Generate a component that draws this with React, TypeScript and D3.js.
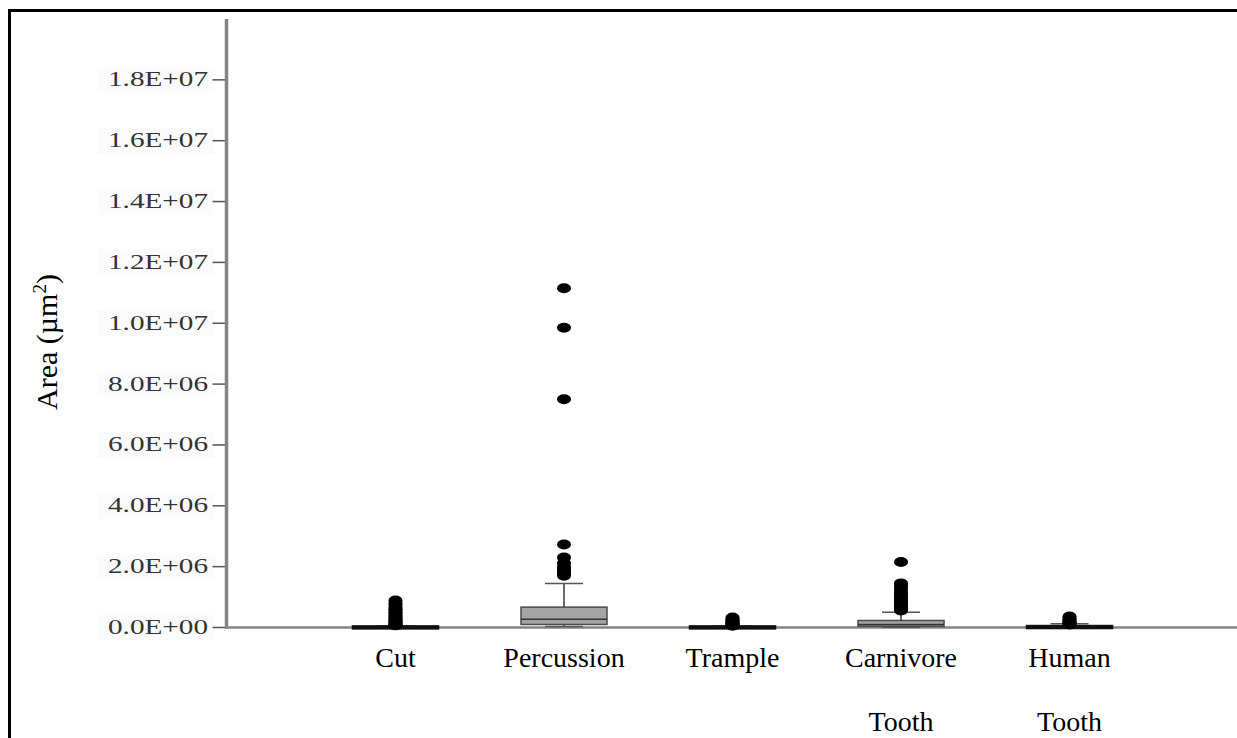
import React from "react";
import * as d3 from "d3";

// Categories (each label may wrap onto a second line)
const categories: string[][] = [
  ["Cut"],
  ["Percussion"],
  ["Trample"],
  ["Carnivore", "Tooth"],
  ["Human", "Tooth"],
];

// Box statistics per category, in µm²
const whiskerLow = [0, 30000, 0, 10000, 5000];
const quartile1 = [3000, 100000, 3000, 40000, 15000];
const medians = [8000, 270000, 8000, 100000, 30000];
const quartile3 = [20000, 670000, 15000, 230000, 60000];
const whiskerHigh = [50000, 1450000, 40000, 500000, 120000];

// Outliers per category, in µm²
const outliersCut = [890000, 800000, 720000, 650000, 600000, 550000, 500000, 450000, 400000, 360000, 320000, 280000, 250000, 220000, 190000, 160000, 130000, 110000, 90000, 70000];
const outliersPercussion = [11150000, 9850000, 7500000, 2730000, 2300000, 2120000, 2000000, 1920000, 1850000, 1780000, 1700000];
const outliersTrample = [330000, 280000, 240000, 200000, 170000, 140000, 120000, 100000, 80000, 60000];
const outliersCarnivore = [2150000, 1450000, 1380000, 1300000, 1200000, 1120000, 1050000, 980000, 920000, 860000, 800000, 750000, 700000, 650000, 600000, 560000];
const outliersHuman = [360000, 310000, 270000, 230000, 200000, 170000, 140000, 120000, 100000];
const outliers = [outliersCut, outliersPercussion, outliersTrample, outliersCarnivore, outliersHuman];

const yTicks = [0, 2e6, 4e6, 6e6, 8e6, 1e7, 1.2e7, 1.4e7, 1.6e7, 1.8e7];

const W = 1237;
const H = 738;

const fmt = (v: number) => {
  const [m, e] = v.toExponential(1).split("e");
  const sign = e.startsWith("-") ? "-" : "+";
  const digits = e.replace(/[+-]/, "").padStart(2, "0");
  return `${m}E${sign}${digits}`;
};

export default function App() {
  const x = d3.scaleLinear().domain([0, 6]).range([227, 1238]);
  const y = d3.scaleLinear().domain([0, 2e7]).range([627.5, 19]);
  const boxW = 86;
  const serif = "'Liberation Serif', 'Times New Roman', serif";

  return (
    <svg
      width={W}
      height={H}
      style={{ position: "absolute", left: 0, top: 0, background: "#fff" }}
    >
      {/* outer frame */}
      <rect x={9.5} y={10.5} width={W + 20} height={H + 20} fill="none" stroke="#000" strokeWidth={3} />

      {/* y tick labels */}
      {yTicks.map((t) => (
        <g key={t}>
          <rect x={97} y={y(t) - 13} width={118} height={26} fill="#fbfbfb" />
          <text
            x={208}
            y={y(t) + 6.5}
            textAnchor="end"
            fontFamily={serif}
            fontSize={21}
            fill="#333"
            textLength={100}
            lengthAdjust="spacingAndGlyphs"
          >
            {fmt(t)}
          </text>
          <line x1={212.5} x2={227} y1={y(t)} y2={y(t)} stroke="#555" strokeWidth={1.5} />
        </g>
      ))}

      {/* axes */}
      <line x1={226.5} x2={226.5} y1={y(2e7)} y2={y(0) + 1} stroke="#858585" strokeWidth={3.5} />
      <line x1={225} x2={W} y1={y(0)} y2={y(0)} stroke="#858585" strokeWidth={2.5} />

      {/* y axis title */}
      <text
        transform={`translate(57,342) rotate(-90)`}
        textAnchor="middle"
        fontFamily={serif}
        fontSize={30}
        fill="#000"
      >
        Area (µm<tspan fontSize={19} dy={-11}>2</tspan>
        <tspan dy={11}>)</tspan>
      </text>

      {/* boxes */}
      {categories.map((c, i) => {
        const cx = x(i + 1);
        const top = y(quartile3[i]);
        const bot = y(quartile1[i]);
        const h = Math.max(bot - top, 1.5);
        const flat = bot - top < 3;
        return (
          <g key={c.join(" ")}>
            {/* whiskers */}
            <line x1={cx} x2={cx} y1={y(whiskerHigh[i])} y2={top} stroke="#6a6a6a" strokeWidth={2} />
            <line x1={cx} x2={cx} y1={bot} y2={y(whiskerLow[i])} stroke="#6a6a6a" strokeWidth={2} />
            <line x1={cx - 19} x2={cx + 19} y1={y(whiskerHigh[i])} y2={y(whiskerHigh[i])} stroke="#555" strokeWidth={1.5} />
            <line x1={cx - 19} x2={cx + 19} y1={y(whiskerLow[i])} y2={y(whiskerLow[i])} stroke="#555" strokeWidth={1.5} />
            {/* box */}
            <rect
              x={cx - boxW / 2}
              y={flat ? bot - 1.5 : top}
              width={boxW}
              height={flat ? 3 : h}
              fill={flat ? "#111" : "#a4a4a4"}
              stroke={flat ? "#111" : "#4a4a4a"}
              strokeWidth={1.5}
            />
            {!flat && (
              <line x1={cx - boxW / 2} x2={cx + boxW / 2} y1={y(medians[i])} y2={y(medians[i])} stroke="#333" strokeWidth={1.5} />
            )}
            {/* outliers */}
            {outliers[i].map((v, k) => (
              <ellipse key={k} cx={cx} cy={y(v)} rx={7} ry={5} fill="#000" />
            ))}
            {/* category label */}
            {c.map((line, j) => (
              <text
                key={line}
                x={cx}
                y={667 + j * 64}
                textAnchor="middle"
                fontFamily={serif}
                fontSize={28}
                fill="#000"
              >
                {line}
              </text>
            ))}
          </g>
        );
      })}
    </svg>
  );
}
